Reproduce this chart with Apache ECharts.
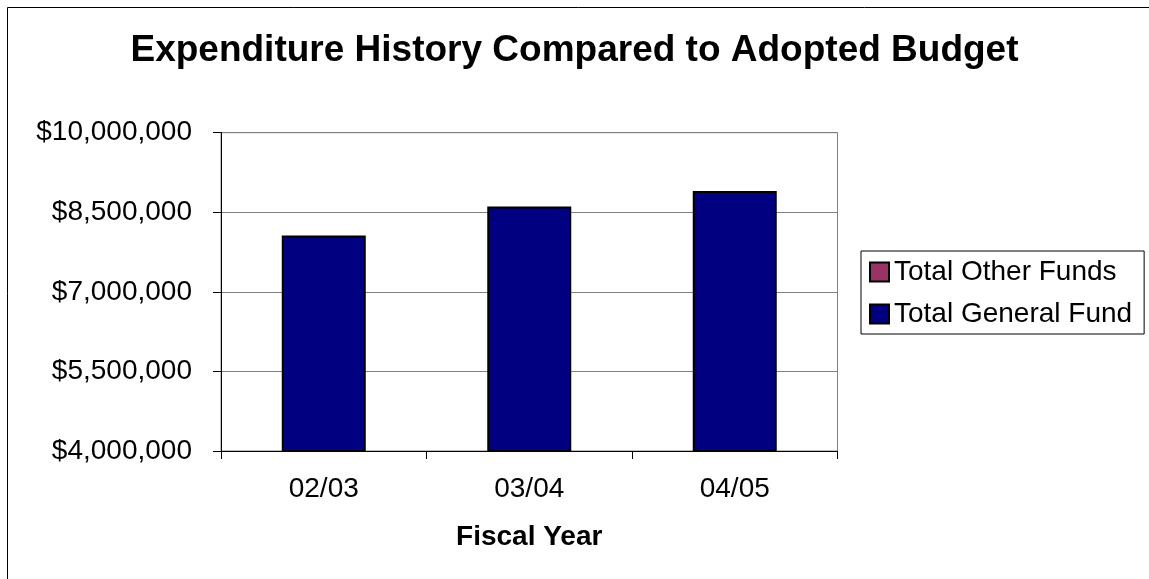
<!DOCTYPE html>
<html>
<head>
<meta charset="utf-8">
<script src="https://cdn.jsdelivr.net/npm/echarts@6/dist/echarts.min.js"></script>
<style>
html,body{margin:0;padding:0;background:#fff;}
#chart{width:1149px;height:579px;}
</style>
</head>
<body>
<div id="chart"></div>
<script>
const categories = ['02/03', '03/04', '04/05'];
const generalFund = [8060000, 8610000, 8900000];
const otherFunds = [null, null, null];
const yTickValues = [4000000, 5500000, 7000000, 8500000, 10000000];
const seriesNames = ['Total Other Funds', 'Total General Fund'];
const titleText = 'Expenditure History Compared to Adopted Budget';
const xAxisTitle = 'Fiscal Year';

const FONT = '"Liberation Sans", Arial, sans-serif';
const fmt = v => '$' + Number(v).toLocaleString('en-US');

const chart = echarts.init(document.getElementById('chart'), null, {renderer: 'canvas'});
chart.setOption({
  animation: false,
  backgroundColor: '#fff',
  graphic: [{
    type: 'rect', silent: true, z: -10,
    shape: {x: 7.5, y: 7.5, width: 1300, height: 700},
    style: {fill: 'none', stroke: '#000', lineWidth: 1}
  }],
  title: {
    text: titleText, left: 'center', top: 27,
    textStyle: {fontFamily: FONT, fontSize: 37, fontWeight: 'bold', color: '#000'}
  },
  legend: {
    data: seriesNames, orient: 'vertical', left: 861, top: 251,
    padding: [7, 12, 6, 8], itemGap: 14, itemWidth: 19, itemHeight: 19,
    itemTextGap: 6, icon: 'rect', borderColor: '#000', borderWidth: 1,
    itemStyle: {borderColor: '#000', borderWidth: 2},
    textStyle: {fontFamily: FONT, fontSize: 28, color: '#000', lineHeight: 27}
  },
  grid: {left: 221, right: 311.5, top: 132.7, bottom: 128, show: true,
         borderColor: '#808080', borderWidth: 1, containLabel: false},
  xAxis: {
    type: 'category', data: categories, boundaryGap: true,
    name: xAxisTitle, nameLocation: 'middle', nameGap: 72,
    nameTextStyle: {fontFamily: FONT, fontSize: 28, fontWeight: 'bold', color: '#000'},
    axisLine: {lineStyle: {color: '#000', width: 1}},
    axisTick: {show: true, length: 8, interval: 0, lineStyle: {color: '#000'}},
    axisLabel: {margin: 24, fontFamily: FONT, fontSize: 28, color: '#000', lineHeight: 28},
    splitLine: {show: false}
  },
  yAxis: {
    type: 'value', min: 4000000, max: 10000000,
    axisLine: {show: true, lineStyle: {color: '#000', width: 1}},
    axisTick: {show: true, length: 8, lineStyle: {color: '#000'}, customValues: yTickValues},
    axisLabel: {margin: 29, fontFamily: FONT, fontSize: 28, color: '#000', customValues: yTickValues,
                formatter: fmt},
    splitLine: {show: true, lineStyle: {color: '#808080', width: 1}}
  },
  series: [
    {name: seriesNames[1], type: 'bar', stack: 'total', data: generalFund, barWidth: 84,
     itemStyle: {color: '#000080', borderColor: '#000', borderWidth: 2}},
    {name: seriesNames[0], type: 'bar', stack: 'total', data: otherFunds, barWidth: 84,
     itemStyle: {color: '#993366', borderColor: '#000', borderWidth: 2}}
  ]
});
</script>
</body>
</html>
